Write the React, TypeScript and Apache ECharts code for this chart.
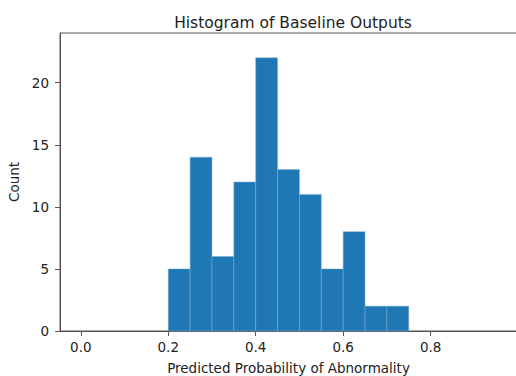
import React, { useEffect, useRef } from "react";
import * as echarts from "echarts";

const binStarts = [0.2, 0.25, 0.3, 0.35, 0.4, 0.45, 0.5, 0.55, 0.6, 0.65, 0.7];
const counts = [5, 14, 6, 12, 22, 13, 11, 5, 8, 2, 2];
const binWidth = 0.05;
const xTicks = [0, 0.2, 0.4, 0.6, 0.8];
const yTicks = [0, 5, 10, 15, 20];

export default function App() {
  const ref = useRef<HTMLDivElement>(null);
  useEffect(() => {
    if (!ref.current) return;
    const chart = echarts.init(ref.current, null, { renderer: "svg" });
    const font = "DejaVu Sans";
    const data = binStarts.map((s, i) => [s, s + binWidth, counts[i]]);
    chart.setOption({
      animation: false,
      title: {
        text: "Histogram of Baseline Outputs",
        left: 288,
        textAlign: "center",
        top: 10,
        textStyle: { fontFamily: font, fontSize: 15.5, fontWeight: "normal", color: "#222" },
      },
      grid: {
        left: 60,
        top: 33,
        width: 457,
        height: 298,
        outerBoundsMode: "none",
        containLabel: false,
        show: true,
        borderColor: "#555",
        borderWidth: 1,
        backgroundColor: "transparent",
      },
      xAxis: {
        type: "value",
        min: -0.0475,
        max: 0.9975,
        name: "Predicted Probability of Abnormality",
        nameLocation: "middle",
        nameGap: 30,
        nameTextStyle: { fontFamily: font, fontSize: 13.5, color: "#222" },
        splitLine: { show: false },
        axisLine: { show: true, onZero: false, lineStyle: { color: "#555", width: 1 } },
        axisTick: { show: true, length: 5, customValues: xTicks, lineStyle: { color: "#555" } },
        axisLabel: {
          customValues: xTicks,
          fontFamily: font,
          fontSize: 13.5,
          color: "#222",
          margin: 9,
          formatter: (v: number) => v.toFixed(1),
        },
      },
      yAxis: {
        type: "value",
        min: 0,
        max: 24,
        name: "Count",
        nameLocation: "middle",
        nameGap: 31,
        nameTextStyle: { fontFamily: font, fontSize: 13.5, color: "#222" },
        splitLine: { show: false },
        axisLine: { show: true, onZero: false, lineStyle: { color: "#555", width: 1 } },
        axisTick: { show: true, length: 5, customValues: yTicks, lineStyle: { color: "#555" } },
        axisLabel: {
          customValues: yTicks,
          fontFamily: font,
          fontSize: 13.5,
          color: "#222",
          margin: 11,
        },
      },
      series: [
        {
          type: "custom",
          data,
          renderItem: (params: any, api: any) => {
            const p0 = api.coord([api.value(0), api.value(2)]);
            const p1 = api.coord([api.value(1), 0]);
            return {
              type: "rect",
              shape: { x: p0[0], y: p0[1], width: p1[0] - p0[0], height: p1[1] - p0[1] },
              style: { fill: "#1f77b4", stroke: "#7eaed3", lineWidth: 0.5 },
            };
          },
        },
      ],
    });
    return () => chart.dispose();
  }, []);
  return <div ref={ref} style={{ width: 516, height: 376, position: "absolute", left: 0, top: 0 }} />;
}
